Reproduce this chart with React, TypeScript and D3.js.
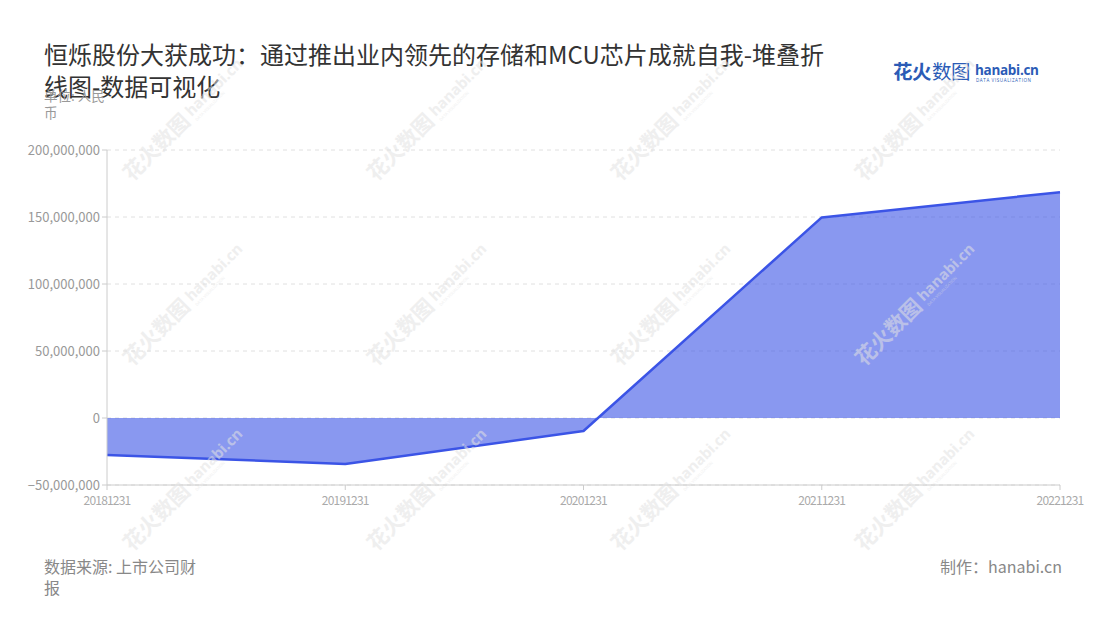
import React from "react";
import * as d3 from "d3";

const categories = ["20181231", "20191231", "20201231", "20211231", "20221231"];
const values = [-27600000, -34300000, -9700000, 149700000, 168500000];
const yTicks = [-50000000, 0, 50000000, 100000000, 150000000, 200000000];

const W = 1100;
const H = 620;
const left = 107;
const right = 1060;
const top = 150;
const bottom = 485;
const FONT = "'Noto Sans CJK SC', 'Noto Sans', sans-serif";

export default function App() {
  const x = d3.scalePoint<string>().domain(categories).range([left, right]);
  const y = d3.scaleLinear().domain([-50000000, 200000000]).range([bottom, top]);
  const fmt = d3.format(",");

  const pts = categories.map((c, i) => ({ c, v: values[i] }));
  const area = d3
    .area<{ c: string; v: number }>()
    .x((d) => x(d.c) as number)
    .y0(y(0))
    .y1((d) => y(d.v));
  const line = d3
    .line<{ c: string; v: number }>()
    .x((d) => x(d.c) as number)
    .y((d) => y(d.v));

  const wm: { x: number; y: number }[] = [];
  for (let r = 0; r < 3; r++) {
    for (let c = 0; c < 4; c++) {
      wm.push({ x: 132 + c * 244, y: 182 + r * 185 });
    }
  }

  return (
    <svg width={W} height={H} style={{ position: "absolute", left: 0, top: 0, background: "#fff" }} fontFamily={FONT}>
      <rect x={0} y={0} width={W} height={H} fill="#fff" />
      {/* title */}
      <text x={44} y={64} fontSize={24} fill="#333">
        恒烁股份大获成功：通过推出业内领先的存储和MCU芯片成就自我-堆叠折
      </text>
      <text x={44} y={96} fontSize={24} fill="#333">
        线图-数据可视化
      </text>
      <text x={44} y={101} fontSize={13.5} fill="#999">
        单位: 人民
      </text>
      <text x={44} y={118} fontSize={13.5} fill="#999">
        币
      </text>

      {/* logo */}
      <text x={893} y={79} fontSize={19.5} fontWeight={700} fill="#2b5bb6" letterSpacing={-0.5}>
        花火
      </text>
      <text x={932} y={79} fontSize={19.5} fill="#2b5bb6" letterSpacing={-0.5}>
        数图
      </text>
      <text x={975} y={75} fontSize={13.5} fontWeight={700} fill="#2b5bb6" fontFamily="'Open Sans', sans-serif" letterSpacing={-0.3}>
        hanabi.cn
      </text>
      <text x={976} y={82} fontSize={4.5} fill="#2b5bb6" fontFamily="'Open Sans', sans-serif" letterSpacing={0.6}>
        DATA VISUALIZATION
      </text>

      {/* grid */}
      {yTicks.map((t) => (
        <line
          key={"g" + t}
          x1={left}
          x2={right}
          y1={y(t)}
          y2={y(t)}
          stroke="#e0e0e0"
          strokeDasharray="4,4"
          strokeWidth={1}
        />
      ))}

      {/* area + line */}
      <path d={area(pts) || ""} fill="#3B54E6" fillOpacity={0.6} />
      <path d={line(pts) || ""} fill="none" stroke="#3B54E6" strokeWidth={2.5} strokeLinejoin="round" />

      {/* axes */}
      <line x1={left} x2={left} y1={top} y2={bottom} stroke="#ccc" strokeWidth={1} />
      <line x1={left} x2={right} y1={bottom} y2={bottom} stroke="#ccc" strokeWidth={1} />
      {yTicks.map((t) => (
        <g key={"y" + t}>
          <line x1={left - 5} x2={left} y1={y(t)} y2={y(t)} stroke="#ccc" />
          <text x={left - 7} y={y(t)} dy="0.35em" textAnchor="end" fontSize={13} fill="#999">
            {fmt(t)}
          </text>
        </g>
      ))}
      {categories.map((c) => (
        <g key={"x" + c}>
          <line x1={x(c)} x2={x(c)} y1={bottom} y2={bottom + 5} stroke="#ccc" />
          <text x={x(c) as number} y={bottom + 20} textAnchor="middle" fontSize={12} fill="#aaa" letterSpacing={-0.8}>
            {c}
          </text>
        </g>
      ))}

      {/* watermarks */}
      {wm.map((p, i) => (
        <g key={"w" + i} transform={`translate(${p.x},${p.y}) rotate(-45)`} opacity={0.55}>
          <text x={0} y={0} fontSize={21} fontWeight={700} fill="#e2e2e2">
            花火数图
          </text>
          <text x={88} y={-4} fontSize={15} fontWeight={700} fill="#e2e2e2" fontFamily="'Open Sans', sans-serif">
            hanabi.cn
          </text>
          <text x={89} y={3} fontSize={4} fill="#e2e2e2" fontFamily="'Open Sans', sans-serif">
            DATA VISUALIZATION
          </text>
        </g>
      ))}

      {/* footer */}
      <text x={44} y={573} fontSize={16} fill="#888">
        数据来源: 上市公司财
      </text>
      <text x={44} y={594} fontSize={16} fill="#888">
        报
      </text>
      <text x={1062} y={573} fontSize={16} fill="#888" textAnchor="end">
        制作：hanabi.cn
      </text>
    </svg>
  );
}
